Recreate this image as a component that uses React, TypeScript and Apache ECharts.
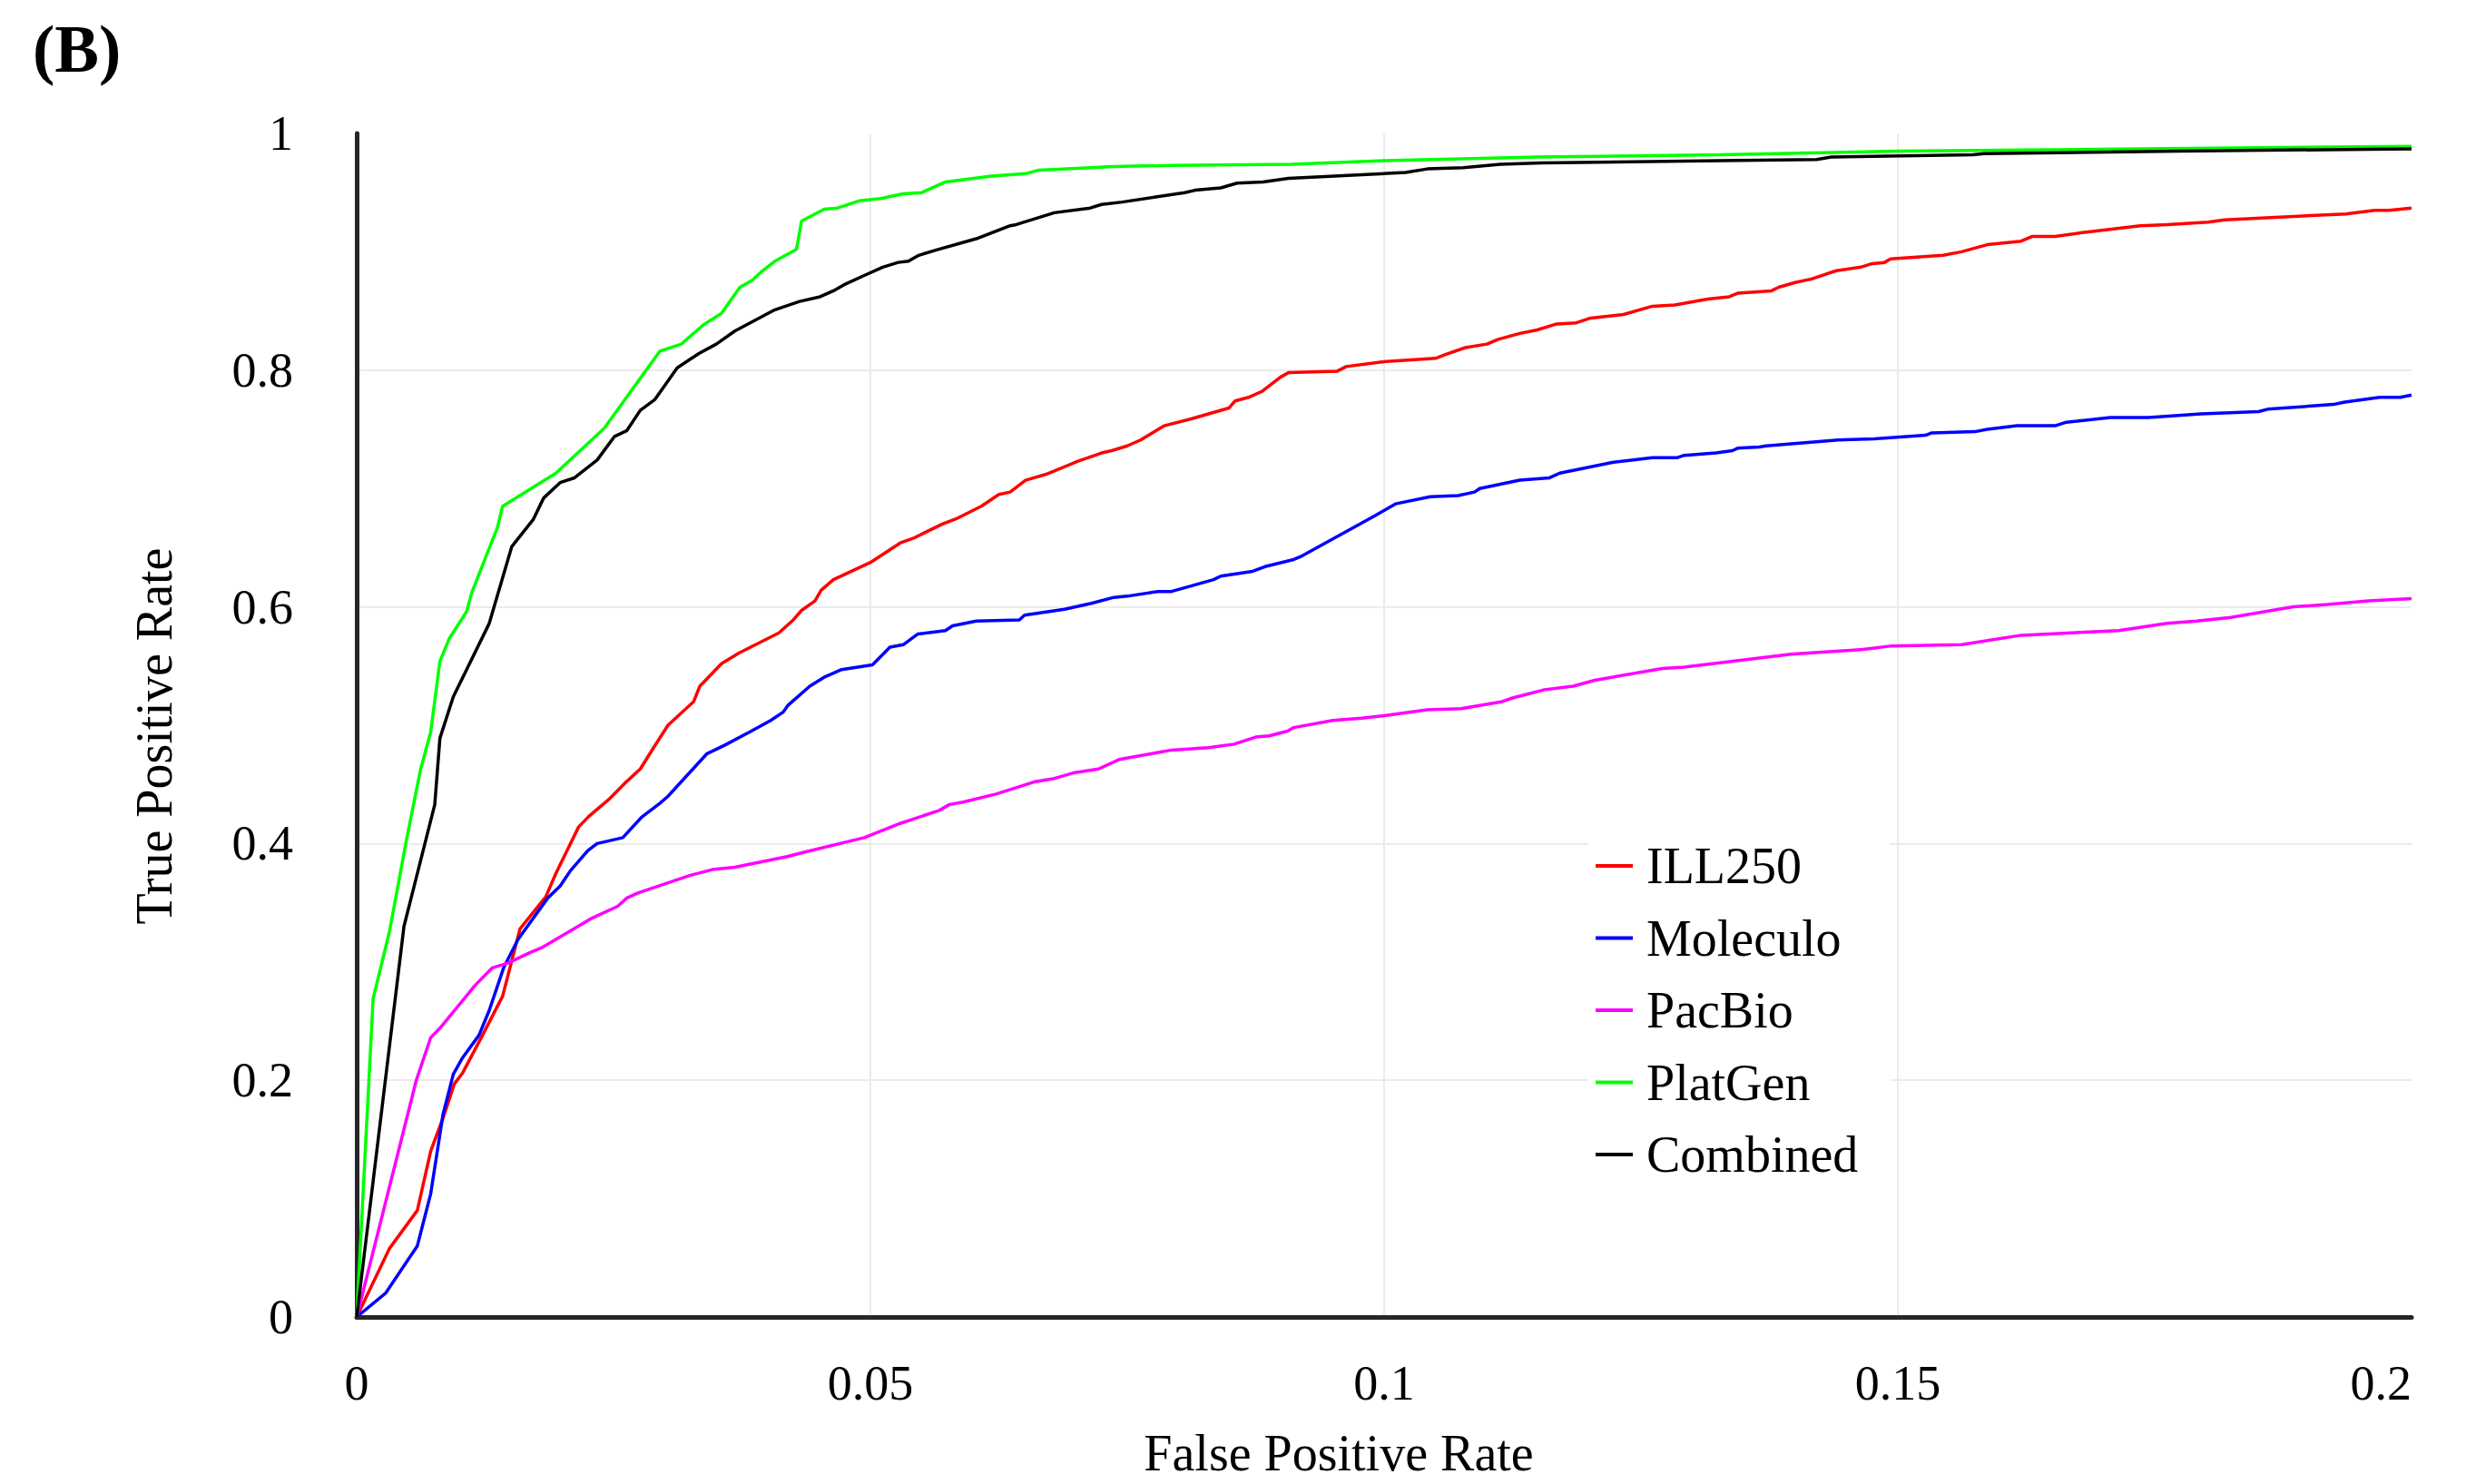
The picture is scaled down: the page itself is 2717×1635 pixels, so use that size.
import React, { useEffect, useRef } from "react";
import * as echarts from "echarts";

const seriesNames = ["ILL250", "Moleculo", "PacBio", "PlatGen", "Combined"];
const seriesColors = ["#ff0000", "#0000ff", "#ff00ff", "#00ff00", "#000000"];

const xTicks = [0, 0.05, 0.1, 0.15, 0.2];
const yTicks = [0, 0.2, 0.4, 0.6, 0.8, 1];

const ill250: [number, number][] = [
  [0, 0], [0.0032, 0.058], [0.0059, 0.09], [0.0072, 0.14], [0.0084, 0.168], [0.0095, 0.197], [0.0103, 0.206],
  [0.0123, 0.239], [0.0142, 0.271], [0.0159, 0.328], [0.0184, 0.355], [0.0194, 0.375], [0.0216, 0.414],
  [0.0226, 0.423], [0.0245, 0.437], [0.0261, 0.451], [0.0276, 0.463], [0.0289, 0.481], [0.0303, 0.5],
  [0.0328, 0.52], [0.0334, 0.533], [0.0355, 0.552], [0.0372, 0.561], [0.0411, 0.578], [0.0425, 0.589],
  [0.0433, 0.597], [0.0446, 0.605], [0.0452, 0.614], [0.0464, 0.623], [0.0501, 0.638], [0.0529, 0.654],
  [0.0542, 0.658], [0.057, 0.67], [0.0585, 0.675], [0.0608, 0.685], [0.0625, 0.695], [0.0636, 0.697],
  [0.0651, 0.707], [0.0671, 0.712], [0.0702, 0.723], [0.0725, 0.73], [0.0735, 0.732], [0.075, 0.736],
  [0.0763, 0.741], [0.0786, 0.753], [0.0813, 0.759], [0.0849, 0.768], [0.0855, 0.774], [0.0868, 0.777],
  [0.0881, 0.782], [0.0899, 0.794], [0.0907, 0.798], [0.0954, 0.799], [0.0963, 0.803], [0.0998, 0.807],
  [0.105, 0.81], [0.1059, 0.813], [0.1079, 0.819], [0.11, 0.822], [0.1111, 0.826], [0.1132, 0.831],
  [0.1149, 0.834], [0.1168, 0.839], [0.1187, 0.84], [0.1201, 0.844], [0.1233, 0.847], [0.1261, 0.854],
  [0.1283, 0.855], [0.1315, 0.86], [0.1336, 0.862], [0.1344, 0.865], [0.1377, 0.867], [0.1384, 0.87],
  [0.14, 0.874], [0.1416, 0.877], [0.144, 0.884], [0.1464, 0.887], [0.1475, 0.89], [0.1487, 0.891],
  [0.1493, 0.894], [0.1544, 0.897], [0.1562, 0.9], [0.1587, 0.906], [0.162, 0.909], [0.1631, 0.913],
  [0.1653, 0.913], [0.1678, 0.916], [0.1736, 0.922], [0.1762, 0.923], [0.1802, 0.925], [0.1818, 0.927],
  [0.1936, 0.932], [0.1964, 0.935], [0.1978, 0.935], [0.2, 0.937],
];

const moleculo: [number, number][] = [
  [0, 0], [0.0028, 0.02], [0.0059, 0.06], [0.0072, 0.104], [0.0084, 0.171], [0.0094, 0.205], [0.0103, 0.219],
  [0.0119, 0.238], [0.0129, 0.259], [0.0143, 0.295], [0.0157, 0.319], [0.0186, 0.354], [0.0198, 0.364],
  [0.0208, 0.377], [0.0225, 0.394], [0.0234, 0.4], [0.0259, 0.405], [0.0277, 0.422], [0.0295, 0.434],
  [0.0303, 0.44], [0.0341, 0.476], [0.0358, 0.483], [0.0382, 0.494], [0.0403, 0.504], [0.0415, 0.511],
  [0.042, 0.517], [0.0441, 0.533], [0.0456, 0.541], [0.0472, 0.547], [0.0502, 0.551], [0.0519, 0.566],
  [0.0532, 0.568], [0.0546, 0.577], [0.0573, 0.58], [0.058, 0.584], [0.0603, 0.588], [0.0645, 0.589],
  [0.065, 0.593], [0.0689, 0.598], [0.0715, 0.603], [0.0737, 0.608], [0.075, 0.609], [0.078, 0.613],
  [0.0793, 0.613], [0.0834, 0.623], [0.0841, 0.626], [0.0872, 0.63], [0.0884, 0.634], [0.0912, 0.64],
  [0.092, 0.643], [0.0991, 0.677], [0.1001, 0.682], [0.1011, 0.687], [0.1045, 0.693], [0.1072, 0.694],
  [0.1088, 0.697], [0.1093, 0.7], [0.1132, 0.707], [0.1161, 0.709], [0.1171, 0.713], [0.1222, 0.722],
  [0.1261, 0.726], [0.1285, 0.726], [0.1292, 0.728], [0.1323, 0.73], [0.1339, 0.732], [0.1344, 0.734],
  [0.1365, 0.735], [0.1372, 0.736], [0.1442, 0.741], [0.1477, 0.742], [0.1527, 0.745], [0.1533, 0.747],
  [0.1575, 0.748], [0.1587, 0.75], [0.1616, 0.753], [0.1653, 0.753], [0.1664, 0.756], [0.1707, 0.76],
  [0.1744, 0.76], [0.1795, 0.763], [0.1851, 0.765], [0.186, 0.767], [0.1924, 0.771], [0.1935, 0.773],
  [0.1969, 0.777], [0.1989, 0.777], [0.2, 0.779],
];

const pacBio: [number, number][] = [
  [0, 0], [0.0058, 0.2], [0.0072, 0.236], [0.0081, 0.244], [0.0115, 0.28], [0.0132, 0.295], [0.0147, 0.299],
  [0.0169, 0.308], [0.018, 0.312], [0.0229, 0.337], [0.0254, 0.347], [0.0263, 0.354], [0.0273, 0.358],
  [0.0324, 0.373], [0.0346, 0.378], [0.0368, 0.38], [0.0419, 0.389], [0.0437, 0.393], [0.0494, 0.405],
  [0.0529, 0.417], [0.0567, 0.428], [0.0577, 0.433], [0.059, 0.435], [0.0623, 0.442], [0.0659, 0.452],
  [0.0679, 0.455], [0.0699, 0.46], [0.0722, 0.463], [0.0742, 0.471], [0.0793, 0.479], [0.0829, 0.481],
  [0.0854, 0.484], [0.0875, 0.49], [0.0888, 0.491], [0.0906, 0.495], [0.0912, 0.498], [0.095, 0.504],
  [0.0978, 0.506], [0.1, 0.508], [0.1042, 0.513], [0.1075, 0.514], [0.1115, 0.52], [0.1125, 0.523],
  [0.1156, 0.53], [0.1184, 0.533], [0.1205, 0.538], [0.1271, 0.548], [0.1292, 0.549], [0.1396, 0.56],
  [0.1466, 0.564], [0.1494, 0.567], [0.1562, 0.568], [0.162, 0.576], [0.1715, 0.58], [0.1762, 0.586],
  [0.1791, 0.588], [0.1824, 0.591], [0.1885, 0.6], [0.1918, 0.602], [0.1958, 0.605], [0.2, 0.607],
];

const platGen: [number, number][] = [
  [0, 0], [0.0016, 0.269], [0.0032, 0.326], [0.0048, 0.401], [0.0062, 0.462], [0.0072, 0.494], [0.0081, 0.554],
  [0.009, 0.573], [0.0107, 0.596], [0.0112, 0.612], [0.0137, 0.667], [0.0142, 0.685], [0.0194, 0.713],
  [0.0241, 0.751], [0.028, 0.798], [0.0295, 0.816], [0.0316, 0.822], [0.0337, 0.838], [0.0355, 0.848],
  [0.0373, 0.87], [0.0385, 0.876], [0.0395, 0.884], [0.0407, 0.892], [0.0428, 0.902], [0.0433, 0.926],
  [0.0455, 0.936], [0.0468, 0.937], [0.0489, 0.943], [0.051, 0.945], [0.0532, 0.949], [0.055, 0.95],
  [0.0573, 0.959], [0.0618, 0.964], [0.0651, 0.966], [0.0664, 0.969], [0.0737, 0.972], [0.0793, 0.973],
  [0.091, 0.974], [0.1, 0.977], [0.115, 0.98], [0.1327, 0.982], [0.15, 0.985], [0.1736, 0.987], [0.2, 0.989],
];

const combined: [number, number][] = [
  [0, 0], [0.0046, 0.33], [0.0076, 0.433], [0.0081, 0.489], [0.0094, 0.524], [0.0129, 0.586], [0.0151, 0.651],
  [0.0172, 0.674], [0.0182, 0.692], [0.0198, 0.705], [0.0212, 0.709], [0.0234, 0.724], [0.0251, 0.744],
  [0.0263, 0.749], [0.0276, 0.766], [0.029, 0.775], [0.0312, 0.802], [0.0333, 0.814], [0.035, 0.822],
  [0.0368, 0.833], [0.0407, 0.851], [0.0431, 0.858], [0.0451, 0.862], [0.0464, 0.867], [0.0474, 0.872],
  [0.0494, 0.88], [0.0512, 0.887], [0.0527, 0.891], [0.0537, 0.892], [0.0547, 0.897], [0.0562, 0.901],
  [0.0603, 0.911], [0.0636, 0.922], [0.0642, 0.923], [0.0679, 0.933], [0.0714, 0.937], [0.0725, 0.94],
  [0.0745, 0.942], [0.0806, 0.95], [0.0816, 0.952], [0.0841, 0.954], [0.0857, 0.958], [0.0882, 0.959],
  [0.0907, 0.962], [0.1021, 0.967], [0.1042, 0.97], [0.1077, 0.971], [0.1113, 0.974], [0.1153, 0.975],
  [0.1327, 0.977], [0.1421, 0.978], [0.1435, 0.98], [0.1573, 0.982], [0.1584, 0.983], [0.1773, 0.985],
  [0.2, 0.987],
];

const seriesData = [ill250, moleculo, pacBio, platGen, combined];

const FONT = '"Liberation Serif", "Times New Roman", serif';

export default function App() {
  const ref = useRef<HTMLDivElement>(null);

  useEffect(() => {
    document.body.style.margin = "0";
    if (!ref.current) return;
    const chart = echarts.init(ref.current, null, { renderer: "svg" });
    chart.setOption({
      animation: false,
      backgroundColor: "#ffffff",
      grid: { left: 393, top: 147, width: 2264, height: 1304, containLabel: false },
      xAxis: {
        type: "value",
        min: xTicks[0],
        max: xTicks[xTicks.length - 1],
        interval: 0.05,
        axisLine: { show: true, onZero: false, lineStyle: { color: "#262626", width: 5 } },
        axisTick: { show: false },
        axisLabel: {
          margin: 46,
          fontFamily: FONT,
          fontSize: 54,
          color: "#000",
          alignMaxLabel: "right",
        },
        splitLine: { show: true, showMinLine: false, showMaxLine: false, lineStyle: { color: "#ebebeb", width: 2 } },
      },
      yAxis: {
        type: "value",
        min: yTicks[0],
        max: yTicks[yTicks.length - 1],
        interval: 0.2,
        axisLine: { show: true, onZero: false, lineStyle: { color: "#262626", width: 5 } },
        axisTick: { show: false },
        axisLabel: {
          margin: 70,
          fontFamily: FONT,
          fontSize: 54,
          color: "#000",
        },
        splitLine: { show: true, showMinLine: false, showMaxLine: false, lineStyle: { color: "#ebebeb", width: 2 } },
      },
      legend: {
        orient: "vertical",
        left: 1750,
        top: 916,
        padding: [10, 35, 10, 8],
        backgroundColor: "#ffffff",
        icon: "rect",
        itemWidth: 41,
        itemHeight: 4,
        itemGap: 23.5,
        textStyle: { fontFamily: FONT, fontSize: 56, color: "#000", lineHeight: 56, padding: [0, 0, 0, 10] },
        data: seriesNames,
      },
      graphic: [
        {
          type: "text",
          x: 36,
          y: 54,
          style: {
            text: "(B)",
            font: `bold 73px ${FONT}`,
            fill: "#000",
            align: "left",
            verticalAlign: "middle",
          },
        },
        {
          type: "text",
          x: 1475,
          y: 1601,
          style: {
            text: "False Positive Rate",
            font: `56px ${FONT}`,
            fill: "#000",
            align: "center",
            verticalAlign: "middle",
          },
        },
        {
          type: "text",
          x: 170,
          y: 811,
          rotation: Math.PI / 2,
          style: {
            text: "True Positive Rate",
            font: `56px ${FONT}`,
            fill: "#000",
            align: "center",
            verticalAlign: "middle",
          },
        },
      ],
      series: seriesNames.map((name, i) => ({
        name,
        type: "line",
        data: seriesData[i],
        showSymbol: false,
        symbol: "none",
        color: seriesColors[i],
        lineStyle: { color: seriesColors[i], width: 3.5 },
        z: 2 + i,
      })),
    });
    return () => chart.dispose();
  }, []);

  return <div ref={ref} style={{ width: 2717, height: 1635, background: "#fff" }} />;
}
